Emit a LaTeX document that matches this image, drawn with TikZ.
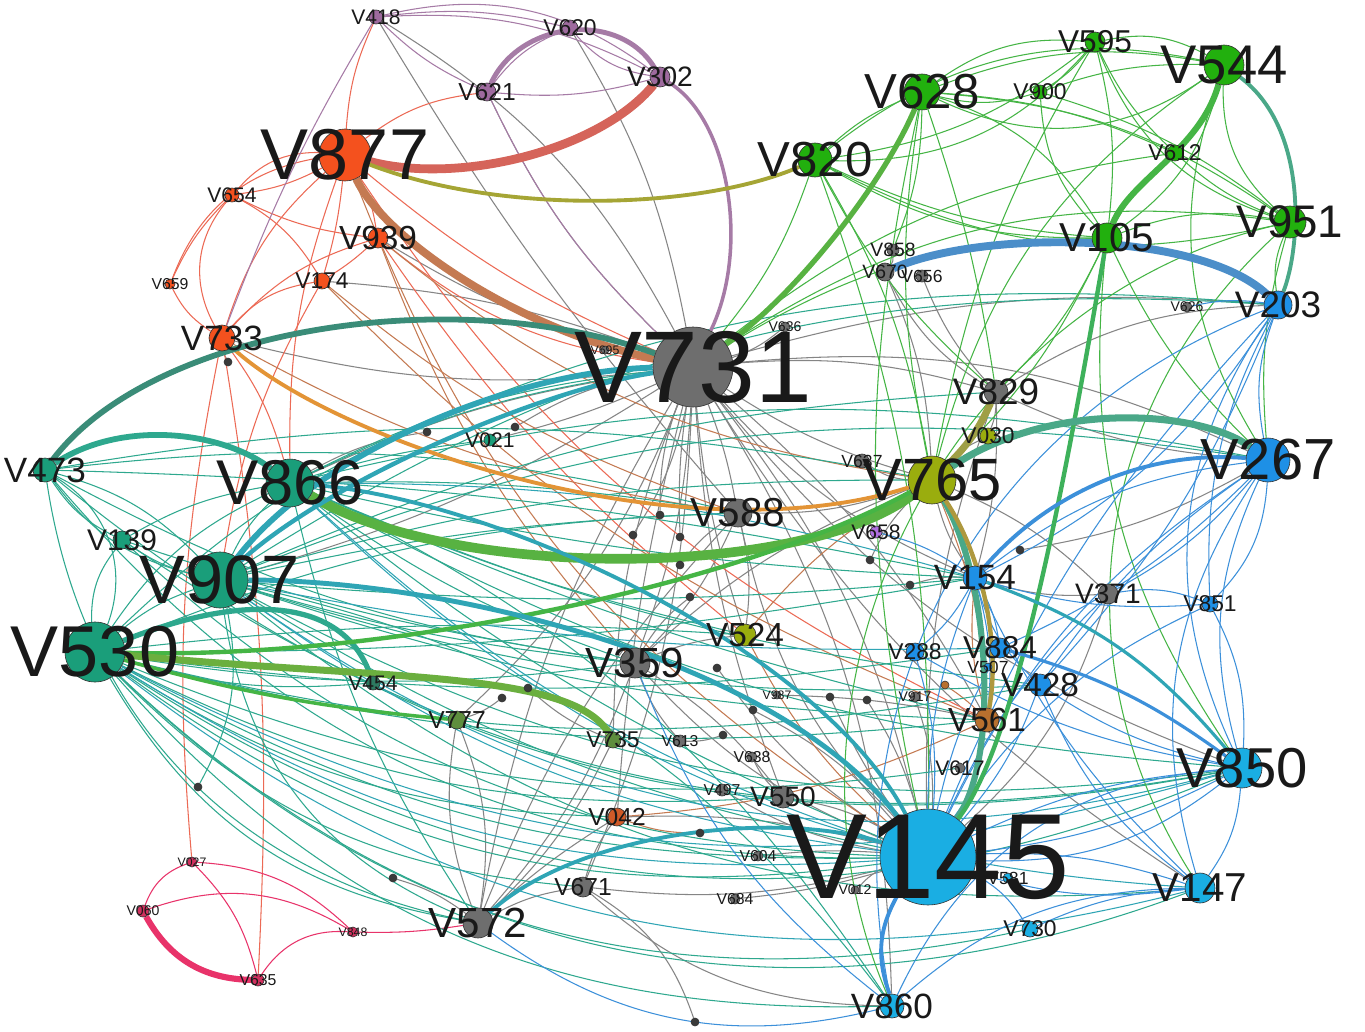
\documentclass[tikz,border=0pt]{standalone}
\usepackage{fontspec}
\setmainfont{Liberation Sans}
\pgfdeclarelayer{bgl}
\pgfdeclarelayer{edges}
\pgfsetlayers{bgl,edges,main}
\definecolor{nGray}{HTML}{6E6E6E}
\definecolor{nDark}{HTML}{3A3A3A}
\definecolor{nLBlue}{HTML}{1AAEE3}
\definecolor{nBlue}{HTML}{1E90E6}
\definecolor{nRed}{HTML}{F4511E}
\definecolor{nTeal}{HTML}{1A9E7A}
\definecolor{nDkTeal}{HTML}{2D7A60}
\definecolor{nGreen}{HTML}{22B00E}
\definecolor{nOlive}{HTML}{9AAD0E}
\definecolor{nPurple}{HTML}{9E6A9E}
\definecolor{nBrown}{HTML}{B8702E}
\definecolor{nOrange}{HTML}{D05A28}
\definecolor{nOGreen}{HTML}{5E8E3E}
\definecolor{nLPurple}{HTML}{B070E0}
\definecolor{nPink}{HTML}{D0305E}
\definecolor{eTeal}{HTML}{2EA88E}
\definecolor{eTealB}{HTML}{2FA5B5}
\definecolor{eGreen}{HTML}{45B545}
\definecolor{eBlue}{HTML}{3C90DA}
\definecolor{eGray}{HTML}{858585}
\definecolor{eRed}{HTML}{EC6A55}
\definecolor{ePink}{HTML}{E8336A}
\definecolor{ePurple}{HTML}{A67BA6}
\definecolor{eOlive}{HTML}{A5A535}
\definecolor{eOrange}{HTML}{E39436}
\definecolor{eBrown}{HTML}{C47A52}
\definecolor{eDkTeal}{HTML}{3A8C78}
\definecolor{eSalmon}{HTML}{D5645A}
\definecolor{eGrTeal}{HTML}{4AA888}
\tikzset{
  dot/.style={circle, draw=black!80, line width=0.35pt, inner sep=0pt, minimum size=#1*0.4mm},
  lb/.style={font=\fontsize{#1}{#1}\selectfont, inner sep=0pt, text=black!90},
  e/.style={line width=0.6pt},
  thick edge/.style={line width=#1},
}
\begin{document}
\begin{tikzpicture}[x=0.02cm,y=-0.02cm]
\useasboundingbox (0,0) rectangle (1365,1031);
\begin{pgfonlayer}{bgl}
\fill[white] (0,0) rectangle (1365,1031);
\end{pgfonlayer}
% ---------- nodes ----------
\foreach \n/\x/\y/\r/\c in {
 731/693/367/40/nGray, 145/928/857/48/nLBlue, 877/345/155/26/nRed, 530/95/652/30/nTeal,
 907/220/580/28/nTeal, 866/290/483/24/nTeal, 765/932/480/24/nOlive, 267/1268/460/22/nBlue,
 850/1242/768/20/nLBlue, 544/1224/65/20/nGreen, 628/922/92/18/nGreen, 820/815/160/17/nGreen,
 951/1290/222/16/nGreen, 105/1107/238/15/nGreen, 203/1278/305/14/nBlue, 147/1200/888/15/nLBlue,
 572/478/923/15/nGray, 359/635/663/15/nGray, 588/738/513/14/nGray, 829/996/392/12/nGray,
 154/975/578/12/nBlue, 524/745/635/11/nOlive, 561/987/720/12/nBrown, 428/1040/685/11/nBlue,
 884/1000/648/10/nBlue, 860/892/1006/12/nLBlue, 733/222/338/13/nRed, 939/378/238/10/nRed,
 473/45/470/12/nTeal, 139/122/540/9/nTeal, 595/1095/42/10/nGreen, 302/660/77/10/nPurple,
 620/570/28/8/nPurple, 621/487/92/9/nPurple, 418/376/17/7/nPurple, 654/232/195/7/nRed,
 174/322/281/8/nRed, 659/170/284/5/nRed, 900/1040/92/7/nGreen, 612/1175/153/8/nGreen,
 030/988/436/8/nOlive, 658/876/532/6/nLPurple, 671/583/887/10/nGray, 042/617/817/9/nOrange,
 735/613/740/8/nOGreen, 777/457/720/9/nOGreen, 454/373/683/7/nDkTeal, 550/783/797/11/nGray,
 617/960/768/5/nGray, 730/1030/929/8/nLBlue, 288/915/652/9/nBlue, 507/988/667/4/nBlue,
 371/1108/594/10/nGray, 851/1210/604/8/nBlue, 021/490/440/6/nTeal, 636/785/327/5/nGray,
 858/893/250/6/nGray, 670/885/272/9/nGray, 656/922/276/6/nGray, 626/1187/307/5/nGray,
 637/862/461/7/nGray, 497/722/790/6/nGray, 604/758/856/5/nGray, 684/735/899/5/nGray,
 581/1008/878/5/nLBlue, 613/680/741/6/nGray, 638/752/757/5/nGray, 027/192/862/5/nPink,
 060/143/911/6/nPink, 848/353/932/5/nPink, 635/258/980/6/nPink, 695/605/350/4/nGray,
 917/915/697/5/nGray, 987/777/695/4/nGray, 012/855/890/4/nGray,
 d1/228/362/4/nDark, d2/427/432/4/nDark, d3/515/427/4/nDark, d4/660/515/4/nDark,
 d5/633/535/4/nDark, d6/680/537/4/nDark, d7/680/565/4/nDark, d8/690/597/4/nDark,
 d9/717/668/4/nDark, d10/753/710/4/nDark, d11/830/697/4/nDark, d12/867/700/4/nDark,
 d13/945/685/4/nBrown, d14/910/585/4/nDark, d15/1020/550/4/nDark, d16/502/698/4/nDark,
 d17/528/688/4/nDark, d18/198/787/4/nDark, d19/393/878/4/nDark, d20/695/1022/4/nDark,
 d21/700/833/4/nDark, d22/723/735/4/nDark, d23/870/560/4/nDark}
 \node[dot=\r, fill=\c] (v\n) at (\x,\y) {};
% ---------- edges ----------
\begin{pgfonlayer}{edges}
% thin grey
\foreach \a/\b/\c in {731/359/8, 731/572/-10, 731/671/10, 731/042/-5, 731/550/-8, 731/145/12,
 731/588/5, 731/524/-6, 731/561/10, 731/154/-12, 731/829/10, 731/267/15, 731/203/10, 731/850/-15,
 731/860/15, 731/147/-12, 731/765/-8, 731/939/8, 731/733/10, 731/174/-8, 731/418/-15, 731/621/10,
 731/620/-10, 731/866/-8, 731/907/8, 731/021/5, 731/777/12, 731/735/-10,
 829/267/-10, 829/203/15, 829/145/-10, 829/154/8, 588/524/10, 588/145/-15, 359/145/-12, 359/524/8,
 359/765/10, 359/588/-10, 765/588/10, 765/030/10, 765/637/15, 765/154/-10, 572/671/10, 572/359/-10,
 572/777/15, 572/777/-15, 572/735/-10, 572/588/10, 572/042/5, 671/042/10, 671/145/-10, 671/860/-20,
 042/145/8, 550/145/10, 550/359/-10, 371/765/-10, 371/145/15, 371/154/10, 858/670/20, 656/829/-10,
 670/829/-15, 670/765/10, 829/030/10, 418/588/-5, 636/731/10,
 d4/731/10, d5/731/-10, d6/731/5, d7/588/10, d8/359/-10, d9/145/-10, d10/145/10, d11/145/-5,
 d12/145/8, d14/154/10, d15/267/-10, d16/777/10, d17/735/-10, d19/572/10, d20/671/-20,
 d22/613/10, d23/765/10, d1/733/10, d2/866/-10, d3/731/10, 613/359/10, 638/550/-10, 497/145/-10,
 604/145/5, 684/145/-5, 917/145/10, 987/561/5, 012/145/10, 695/731/5}
 \draw[e, eGray] (v\a) to[bend left=\c] (v\b);
% thin red
\foreach \a/\b/\c in {877/654/10, 877/733/-15, 877/174/5, 877/939/10, 877/659/-30, 654/733/-35,
 654/174/15, 654/659/-10, 659/733/-15, 733/174/20, 733/939/15, 939/174/5, 654/939/-10, 877/621/15,
 877/418/10, 733/027/-8, 635/733/-6, 877/866/-10, 877/561/-15, 939/524/-8, 174/907/-10, 733/866/10,
 654/877/25, 877/731/-8, 939/731/-15}
 \draw[e, eRed] (v\a) to[bend left=\c] (v\b);
% brown / orange thin
\foreach \a/\b/\c in {174/588/-10, 939/359/-10, 733/588/-10, 939/765/-15, 042/561/-10, 765/561/10,
 765/524/-10, 561/154/10, 524/145/-10, d13/561/5, d21/042/10, 877/145/-18, 174/561/-12}
 \draw[e, eBrown] (v\a) to[bend left=\c] (v\b);
% pink
\foreach \a/\b/\c in {027/060/-25, 027/635/15, 027/848/20, 060/848/25, 635/848/30, 848/572/-5}
 \draw[e, ePink] (v\a) to[bend left=\c] (v\b);
% purple
\foreach \a/\b/\c in {418/621/-10, 418/620/10, 418/302/15, 418/302/25, 621/302/-10, 620/621/-15,
 620/302/-20, 621/731/-10, 418/733/-5}
 \draw[e, ePurple] (v\a) to[bend left=\c] (v\b);
% teal from the left
\foreach \a/\b/\c in {530/145/-15, 530/145/-22, 530/850/-28, 530/147/-32, 530/860/-25, 530/730/-28,
 530/561/-10, 530/428/-12, 530/154/-5, 530/359/-8, 530/524/5, 530/588/10, 530/731/18, 530/866/15,
 530/907/10, 530/473/-40, 530/139/20, 530/572/-25, 530/671/-20, 530/042/-15, 530/550/-15, 530/617/-15,
 530/884/-8, 907/145/-10, 907/850/-18, 907/147/-22, 907/267/15, 907/765/8, 907/154/-5, 907/359/-5,
 907/588/5, 907/866/10, 907/473/-15, 907/139/10, 907/428/-10, 907/561/-8, 907/203/18, 907/829/10,
 907/572/-30, 866/145/-8, 866/267/12, 866/850/-12, 866/154/-5, 866/428/-8, 866/588/5, 866/524/-5,
 866/359/-8, 866/731/10, 866/203/15, 866/561/-5, 866/139/-10, 866/572/-10, 473/145/-25, 473/850/-25,
 473/572/-35, 473/139/-15, 473/907/-20, 473/588/10, 473/359/-10, 473/765/10, 473/154/5, 139/145/-20,
 139/850/-22, 139/359/-5, 860/907/-20, 860/866/-15, d18/907/-20, 454/530/10, 021/866/-5}
 \draw[e, eTeal] (v\a) to[bend left=\c] (v\b);
% teal-blue from the left
\foreach \a/\b/\c in {530/145/-18, 907/145/-14, 866/145/-12, 530/850/-22, 907/850/-25, 530/147/-26,
 866/147/-20, 907/884/-6, 866/154/8}
 \draw[e, eTealB] (v\a) to[bend left=\c] (v\b);
% green
\foreach \a/\b/\c in {544/595/-20, 544/628/-15, 544/900/-10, 544/612/10, 544/951/-25, 544/820/-25,
 595/628/-20, 595/105/10, 595/951/-25, 595/612/-10, 595/900/10, 628/820/-10, 628/105/20, 628/951/15,
 628/612/10, 628/900/-15, 900/105/-20, 900/951/10, 612/105/-10, 612/951/-10, 105/951/15, 105/820/10,
 951/203/-15, 820/105/-15, 820/951/-20, 820/595/-25, 628/544/-30, 595/820/15, 628/765/-10, 820/765/10,
 544/765/-20, 105/731/-15, 951/731/-20, 820/731/10, 105/829/10, 951/267/-10, 544/267/-25, 628/829/5,
 105/765/10, 595/765/-10, 105/267/-10, 820/829/-10, 628/858/10, 612/731/-15, 951/147/-40, 105/850/-20,
 544/105/20, 951/860/-50, 628/145/-12, 820/145/10}
 \draw[e, eGreen] (v\a) to[bend left=\c] (v\b);
% blue
\foreach \a/\b/\c in {267/203/15, 267/154/-15, 267/884/10, 267/428/-10, 267/850/-20, 267/147/-25,
 267/851/20, 267/371/10, 267/145/-15, 203/154/15, 203/850/-30, 203/145/-10, 203/428/10, 850/145/10,
 850/145/-10, 850/145/20, 850/147/15, 850/288/10, 850/860/-30, 850/428/10, 147/145/-10, 147/145/12,
 147/860/-20, 147/730/-10, 147/154/10, 147/428/15, 154/884/10, 154/428/-15, 154/288/10, 154/145/-10,
 154/561/10, 428/145/10, 884/145/-8, 288/145/10, 730/145/-15, 860/572/25, 860/359/15, 851/371/-15,
 851/154/10, 851/145/-15, 371/145/-10, 203/851/-15, 851/850/15, 203/860/-40, 658/154/10, 626/203/10}
 \draw[e, eBlue] (v\a) to[bend left=\c] (v\b);
% ---------- thick edges ----------
\draw[thick edge=5pt, eSalmon] (v877) .. controls (460,185) and (600,150) .. (v302);
\draw[thick edge=4.5pt, eBrown] (v877) .. controls (385,240) and (520,330) .. (v731);
\draw[thick edge=2.8pt, ePurple] (v621) .. controls (520,20) and (620,10) .. (v302);
\draw[thick edge=2pt, ePurple] (v302) .. controls (730,120) and (750,250) .. (v731);
\draw[thick edge=2.2pt, eOlive] (v877) .. controls (500,215) and (700,210) .. (v820);
\draw[thick edge=2.2pt, eOrange] (v733) .. controls (330,440) and (680,560) .. (v765);
\draw[thick edge=3.3pt, eDkTeal] (v473) .. controls (150,330) and (450,280) .. (v731);
\draw[thick edge=3.3pt, eTeal] (v473) .. controls (120,420) and (220,430) .. (v866);
\draw[thick edge=5.5pt, eGreen!80!eOlive] (v866) .. controls (450,580) and (800,580) .. (v765);
\draw[thick edge=3.3pt, eTealB] (v907) .. controls (320,450) and (520,370) .. (v731);
\draw[thick edge=2.5pt, eTealB] (v907) .. controls (330,480) and (540,390) .. (v731);
\draw[thick edge=3pt, eTeal] (v530) .. controls (250,590) and (345,600) .. (v454);
\draw[thick edge=2.5pt, eGreen] (v530) .. controls (400,660) and (750,580) .. (v765);
\draw[thick edge=4pt, eGreen!60!eOlive] (v530) .. controls (380,680) and (570,670) .. (v735);
\draw[thick edge=2pt, eGreen] (v530) to[bend right=5] (v777);
\draw[thick edge=3.5pt, eGrTeal] (v765) .. controls (990,580) and (1000,760) .. (v145);
\draw[thick edge=4pt, eOlive!80!eGray] (v829) to[bend left=10] (v765);
\draw[thick edge=2.5pt, eOlive!70!eBrown] (v765) .. controls (985,560) and (1000,650) .. (v561);
\draw[thick edge=2.5pt, eGreen!70!eTeal] (v105) .. controls (1070,450) and (1020,740) .. (v145);
\draw[thick edge=4.5pt, eBlue!80!eGray] (v670) .. controls (980,230) and (1200,230) .. (v203);
\draw[thick edge=3.5pt, eGreen] (v544) .. controls (1200,150) and (1130,180) .. (v105);
\draw[thick edge=2.2pt, eGrTeal] (v544) .. controls (1310,130) and (1300,250) .. (v203);
\draw[thick edge=3pt, eGreen!80!eOlive] (v628) .. controls (880,190) and (790,300) .. (v731);
\draw[thick edge=4pt, eGrTeal] (v765) .. controls (1050,400) and (1200,410) .. (v267);
\draw[thick edge=3.5pt, ePink] (v060) to[bend right=30] (v635);
\draw[thick edge=2.2pt, eBlue] (v145) to[bend right=25] (v860);
\draw[thick edge=2.2pt, eTealB] (v572) .. controls (580,830) and (780,810) .. (v145);
\draw[thick edge=2.8pt, eTealB] (v907) .. controls (450,580) and (780,660) .. (v145);
\draw[thick edge=2.2pt, eTealB] (v866) .. controls (500,500) and (820,650) .. (v145);
\draw[thick edge=2.2pt, eBlue] (v154) .. controls (1050,490) and (1150,450) .. (v267);
\draw[thick edge=1.8pt, eBlue] (v850) to[bend right=10] (v884);
\draw[thick edge=1.8pt, eTealB] (v850) to[bend right=15] (v154);
\end{pgfonlayer}
% ---------- labels ----------
\foreach \n/\s in {731/58, 145/69, 877/41, 530/41, 907/39, 866/36, 765/34, 267/33, 850/32, 544/31,
 628/28, 820/28, 951/26, 105/23, 203/21, 147/23, 572/24, 359/24, 588/23, 829/21, 154/20, 524/19,
 561/19, 428/19, 884/18, 860/20, 733/20, 939/19, 473/20, 139/17, 595/18, 302/16, 620/13, 621/14,
 418/12, 654/12, 174/13, 659/9, 900/13, 612/13, 030/13, 658/12, 671/14, 042/14, 735/13, 777/14,
 454/12, 550/16, 617/12, 730/13, 288/13, 507/10, 371/16, 851/13, 021/12, 636/8, 858/11, 670/11,
 656/10, 626/8, 637/10, 497/9, 604/9, 684/9, 581/10, 613/9, 638/9, 027/7, 060/8, 848/7, 635/9,
 695/7, 917/8, 987/7, 012/8}
 \node[lb=\s] (l\n) at (v\n) {V\n};
\end{tikzpicture}
\end{document}
